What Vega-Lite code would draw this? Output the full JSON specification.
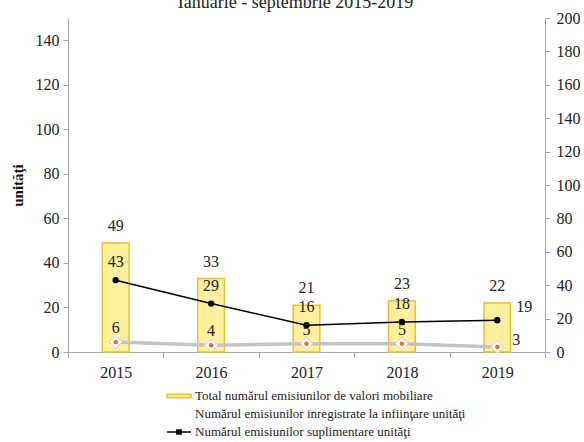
{
  "$schema": "https://vega.github.io/schema/vega-lite/v6.json",
  "width": 477,
  "height": 334,
  "autosize": {"type": "none"},
  "padding": {"left": 68, "top": 18, "right": 39, "bottom": 90},
  "config": {
    "font": "Times New Roman, Liberation Serif, Tinos, DejaVu Serif, serif",
    "view": {"stroke": null},
    "text": {"font": "Times New Roman, Liberation Serif, Tinos, DejaVu Serif, serif"},
    "axis": {
      "labelFont": "Times New Roman, Liberation Serif, Tinos, DejaVu Serif, serif",
      "titleFont": "Times New Roman, Liberation Serif, Tinos, DejaVu Serif, serif",
      "labelColor": "#222222",
      "titleColor": "#111111",
      "domainColor": "#a6a6a6",
      "tickColor": "#a6a6a6",
      "grid": false,
      "labelFontSize": 16,
      "tickSize": 5
    },
    "legend": {"labelFont": "Times New Roman, Liberation Serif, Tinos, DejaVu Serif, serif"}
  },
  "title": {
    "text": "Ianuarie - septembrie 2015-2019",
    "font": "Times New Roman, Liberation Serif, Tinos, DejaVu Serif, serif",
    "fontSize": 18,
    "fontWeight": "normal",
    "color": "#222222",
    "baseline": "alphabetic",
    "frame": "group",
    "offset": -16,
    "dx": -11
  },
  "data": {
    "values": [
      {"an": "2015", "total": 49, "inf": 6, "sup": 43},
      {"an": "2016", "total": 33, "inf": 4, "sup": 29},
      {"an": "2017", "total": 21, "inf": 5, "sup": 16},
      {"an": "2018", "total": 23, "inf": 5, "sup": 18},
      {"an": "2019", "total": 22, "inf": 3, "sup": 19}
    ]
  },
  "layer": [
    {
      "encoding": {
        "x": {
          "field": "an",
          "type": "ordinal",
          "scale": {"paddingInner": 0, "paddingOuter": 0},
          "axis": {"title": null, "labelAngle": 0, "tickBand": "extent", "labelPadding": 7}
        },
        "y": {
          "field": "total",
          "type": "quantitative",
          "scale": {"domain": [0, 150], "nice": false},
          "axis": {
            "title": "unităţi",
            "titleFontWeight": "bold",
            "titleFontSize": 15,
            "titlePadding": 10,
            "values": [0, 20, 40, 60, 80, 100, 120, 140],
            "labelPadding": 4
          }
        }
      },
      "layer": [
        {
          "mark": {"type": "bar", "width": {"band": 0.28}, "fill": "#FFF0A0", "stroke": "#F0BF2A", "strokeWidth": 1.5}
        },
        {
          "mark": {"type": "text", "dy": -17, "fontSize": 16, "color": "#222222", "font": "Times New Roman, Liberation Serif, Tinos, DejaVu Serif, serif"},
          "encoding": {"text": {"field": "total", "type": "quantitative"}}
        },
        {
          "transform": [{"fold": ["total", "inf", "sup"], "as": ["key", "v2"]}],
          "mark": {"type": "point", "opacity": 0, "filled": true},
          "encoding": {
            "color": {
              "field": "key",
              "type": "nominal",
              "title": null,
              "scale": {"domain": ["total", "inf", "sup"], "range": ["#FFEF9A", "#ffffff", "#000000"]},
              "legend": {
                "orient": "none",
                "legendX": 104,
                "legendY": 371,
                "direction": "vertical",
                "title": null,
                "labelFont": "Times New Roman, Liberation Serif, Tinos, DejaVu Serif, serif",
                "labelFontSize": 13,
                "labelColor": "#222222",
                "labelLimit": 500,
                "symbolType": "M-2,0L2,0",
                "symbolSize": 144,
                "labelOffset": 9,
                "rowPadding": 4,
                "padding": 0,
                "labelExpr": "datum.value=='total'?'Total numărul emisiunilor de valori mobiliare':datum.value=='inf'?'Numărul emisiunilor inregistrate la infiinţare unităţi':'Numărul emisiunilor suplimentare unităţi'",
                "encode": {
                  "symbols": {
                    "update": {
                      "shape": {"signal": "datum.value=='total'?'M-2,-0.3L2,-0.3L2,0.3L-2,0.3Z':'M-2,0L2,0M-0.35,-0.35L0.35,-0.35L0.35,0.35L-0.35,0.35Z'"},
                      "fill": {"signal": "datum.value=='total'?'#FFEF9A':datum.value=='inf'?'transparent':'#000000'"},
                      "stroke": {"signal": "datum.value=='total'?'#F0BF2A':datum.value=='inf'?'transparent':'#000000'"},
                      "strokeWidth": {"value": 1.5},
                      "opacity": {"value": 1}
                    }
                  }
                }
              }
            }
          }
        }
      ]
    },
    {
      "transform": [{"fold": ["inf", "sup"], "as": ["key", "v"]}],
      "encoding": {
        "x": {"field": "an", "type": "ordinal"},
        "y": {
          "field": "v",
          "type": "quantitative",
          "scale": {"domain": [0, 200], "nice": false},
          "axis": {"title": null, "orient": "right", "values": [0, 20, 40, 60, 80, 100, 120, 140, 160, 180, 200], "labelPadding": 6}
        }
      },
      "layer": [
        {
          "transform": [{"filter": "datum.key=='inf'"}],
          "mark": {"type": "line", "strokeWidth": 3.5, "color": "#c4c4c4"}
        },
        {
          "transform": [{"filter": "datum.key=='sup'"}],
          "mark": {"type": "line", "strokeWidth": 1.5, "color": "#000000"}
        },
        {
          "transform": [{"filter": "datum.key=='sup'"}],
          "mark": {"type": "point", "shape": "circle", "filled": true, "color": "#000000", "size": 40, "opacity": 1}
        },
        {
          "transform": [{"filter": "datum.key=='inf' && datum.an!='2019'"}],
          "mark": {"type": "text", "dy": -14, "fontSize": 16, "color": "#222222", "font": "Times New Roman, Liberation Serif, Tinos, DejaVu Serif, serif"},
          "encoding": {"text": {"field": "v", "type": "quantitative"}}
        },
        {
          "transform": [{"filter": "datum.key=='inf' && datum.an=='2019'"}],
          "mark": {"type": "text", "dx": 19, "dy": -7, "fontSize": 16, "color": "#222222", "font": "Times New Roman, Liberation Serif, Tinos, DejaVu Serif, serif"},
          "encoding": {"text": {"field": "v", "type": "quantitative"}}
        },
        {
          "transform": [{"filter": "datum.key=='inf'"}],
          "mark": {"type": "point", "shape": "diamond", "filled": true, "fill": "#ffffff", "stroke": "#cfcfcf", "strokeWidth": 1, "size": 170, "opacity": 1}
        },
        {
          "transform": [{"filter": "datum.key=='inf'"}],
          "mark": {"type": "point", "shape": "circle", "filled": true, "color": "#F26B1D", "size": 20, "opacity": 1}
        },
        {
          "transform": [{"filter": "datum.key=='sup' && datum.an!='2019'"}],
          "mark": {"type": "text", "dy": -18, "fontSize": 16, "color": "#222222", "font": "Times New Roman, Liberation Serif, Tinos, DejaVu Serif, serif"},
          "encoding": {"text": {"field": "v", "type": "quantitative"}}
        },
        {
          "transform": [{"filter": "datum.key=='sup' && datum.an=='2019'"}],
          "mark": {"type": "text", "dx": 27, "dy": -13, "fontSize": 16, "color": "#222222", "font": "Times New Roman, Liberation Serif, Tinos, DejaVu Serif, serif"},
          "encoding": {"text": {"field": "v", "type": "quantitative"}}
        }
      ]
    }
  ],
  "resolve": {"scale": {"y": "independent"}}
}
